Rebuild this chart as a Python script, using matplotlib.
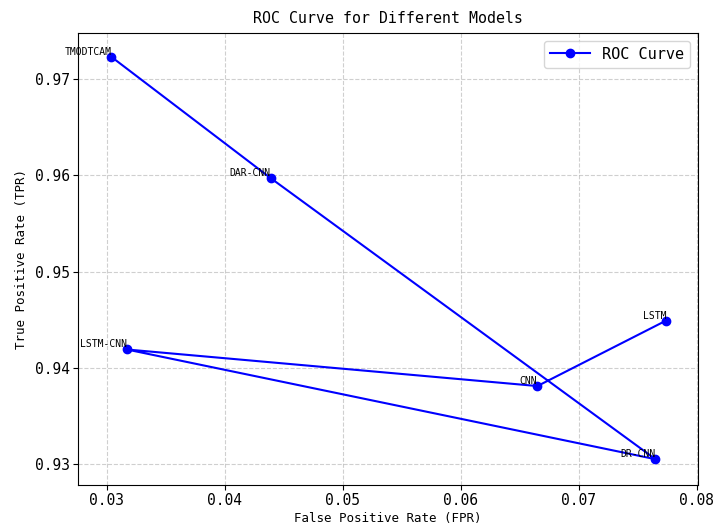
import matplotlib
matplotlib.use("Agg")
import matplotlib.pyplot as plt

plt.rcParams['font.family'] = ['DejaVu Sans Mono']

# Model results
models = ["TMODTCAM", "DAR-CNN", "DR-CNN", "LSTM-CNN", "CNN", "LSTM"]
fpr = [0.0304, 0.0439, 0.0765, 0.0317, 0.0665, 0.0774]
tpr = [0.9723, 0.9597, 0.9305, 0.9419, 0.9381, 0.9449]

fig = plt.figure(figsize=(7.14, 5.27), dpi=100)
ax = fig.add_axes([0.1092, 0.0797, 0.8683, 0.8577])

ax.plot(fpr, tpr, marker='o', color='blue', linewidth=1.5, markersize=6, label='ROC Curve')
for name, x, y in zip(models, fpr, tpr):
    ax.text(x, y, name, ha='right', va='bottom', fontsize=7)

ax.set_xlim(0.02757, 0.0801)
ax.set_ylim(0.92782, 0.97478)

ax.set_title("ROC Curve for Different Models", fontsize=10.7, pad=7)
ax.set_xlabel("False Positive Rate (FPR)", fontsize=9, labelpad=3)
ax.set_ylabel("True Positive Rate (TPR)", fontsize=9, labelpad=5)
ax.tick_params(labelsize=10.5, pad=2.5)
ax.grid(True, linestyle='--', alpha=0.6)
ax.legend(loc='upper right', fontsize=11, handlelength=2.6)

plt.savefig("out.png", dpi=100)
